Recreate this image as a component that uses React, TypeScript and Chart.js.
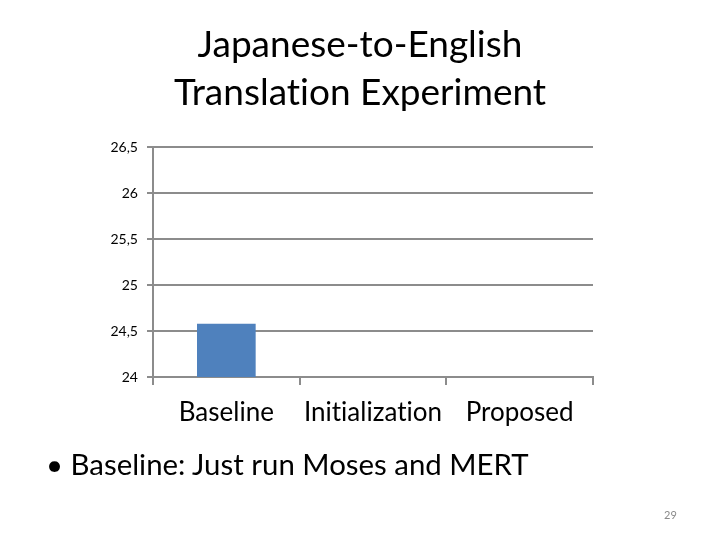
import React, { useEffect, useRef } from "react";
import { Chart, registerables } from "chart.js";

Chart.register(...registerables);

const categories = ["Baseline", "Initialization", "Proposed"];
const bleuValues: (number | null)[] = [24.58, null, null];
const yMin = 24;
const yMax = 26.5;
const yStep = 0.5;
const titleLines = ["Japanese-to-English", "Translation Experiment"];
const bulletText = "Baseline: Just run Moses and MERT";
const pageNumber = "29";

const FONT = "Lato, 'Open Sans', sans-serif";
const GRID = "#8c8c8c";

const noLigatures = {
  id: "noLigatures",
  beforeDraw(chart: any) {
    try {
      chart.ctx.letterSpacing = "0.01px";
    } catch (e) {}
  },
};

export default function App() {
  const canvasRef = useRef<HTMLCanvasElement | null>(null);

  useEffect(() => {
    document.body.style.margin = "0";
    const ctx = canvasRef.current;
    if (!ctx) return;
    const chart = new Chart(ctx, {
      type: "bar",
      data: {
        labels: categories,
        datasets: [
          {
            data: bleuValues,
            backgroundColor: "#4f81bd",
            categoryPercentage: 0.8,
            barPercentage: 0.5,
          },
        ],
      },
      plugins: [noLigatures],
      options: {
        animation: false,
        responsive: false,
        devicePixelRatio: 1,
        layout: { padding: { left: 0, right: 127, top: 147, bottom: 0 } },
        plugins: {
          legend: { display: false },
          tooltip: { enabled: false },
          title: { display: false },
        },
        scales: {
          x: {
            offset: true,
            grid: {
              offset: true,
              drawOnChartArea: false,
              drawTicks: true,
              tickLength: 8,
              color: GRID,
              lineWidth: 2,
            },
            border: { display: true, color: GRID, width: 2 },
            ticks: {
              color: "#000",
              padding: 12,
              font: { family: FONT, size: 26 },
              maxRotation: 0,
              autoSkip: false,
            },
            afterFit: (scale: any) => {
              scale.height = 540 - 377;
            },
          },
          y: {
            min: yMin,
            max: yMax,
            grid: {
              color: GRID,
              lineWidth: 2,
              drawTicks: true,
              tickLength: 6,
            },
            border: { display: true, color: GRID, width: 2 },
            ticks: {
              stepSize: yStep,
              color: "#000",
              padding: 9,
              font: { family: FONT, size: 14 },
              callback: (v: any) => String(v).replace(".", ","),
            },
            afterFit: (scale: any) => {
              scale.width = 153;
            },
          },
        },
      },
    });
    return () => chart.destroy();
  }, []);

  return (
    <div
      style={{
        position: "absolute",
        left: 0,
        top: 0,
        width: 720,
        height: 540,
        background: "#fff",
        fontFamily: FONT,
        fontVariantLigatures: "none",
        overflow: "hidden",
      }}
    >
      <canvas
        ref={canvasRef}
        width={720}
        height={540}
        style={{ position: "absolute", left: 0, top: 0, width: 720, height: 540 }}
      />
      <div
        style={{
          position: "absolute",
          left: 0,
          top: 19,
          width: 720,
          textAlign: "center",
          fontSize: 37,
          lineHeight: "48px",
          color: "#000",
        }}
      >
        {titleLines.map((t) => (
          <div key={t}>{t}</div>
        ))}
      </div>
      <div
        style={{
          position: "absolute",
          left: 46,
          top: 445,
          fontSize: 29.4,
          lineHeight: "38px",
          color: "#000",
          whiteSpace: "nowrap",
        }}
      >
        {"\u2022 " + bulletText}
      </div>
      <div
        style={{
          position: "absolute",
          left: 664,
          top: 508,
          fontSize: 11,
          color: "#8a8a8a",
        }}
      >
        {pageNumber}
      </div>
    </div>
  );
}
